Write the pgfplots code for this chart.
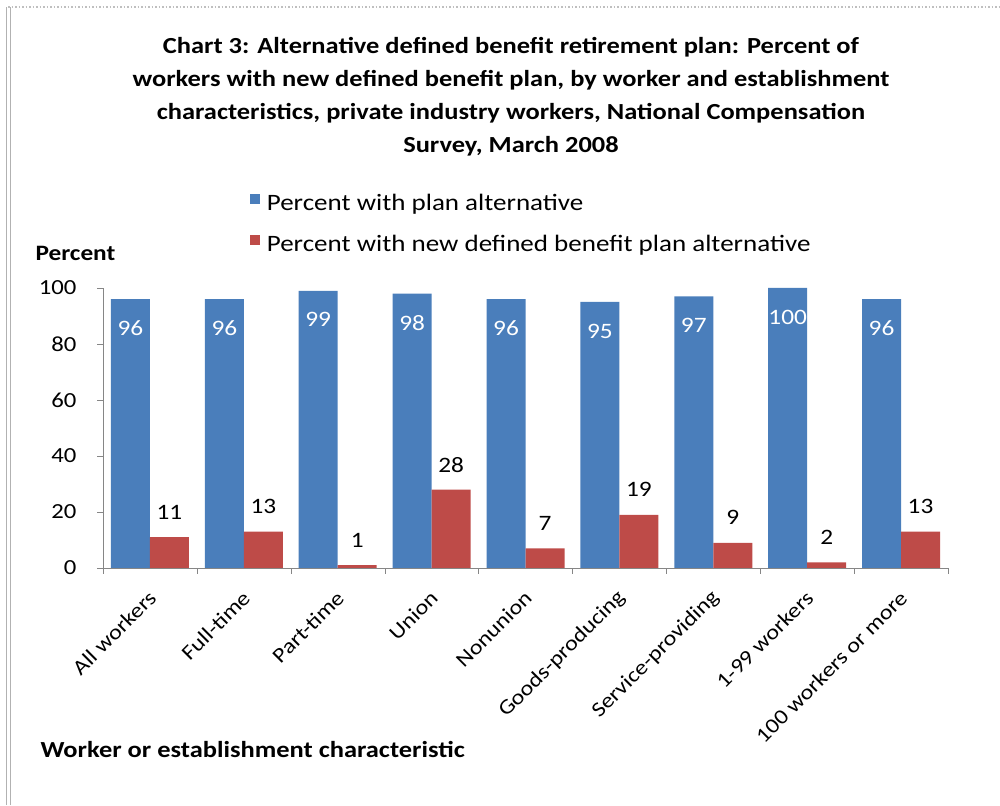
\documentclass[border=0pt]{standalone}
\usepackage{pgfplots}
\pgfplotsset{compat=1.18}
\usepackage{fontspec}
\setmainfont{Carlito}[FakeStretch=1.15]
\definecolor{barblue}{HTML}{4A7EBB}
\definecolor{barred}{HTML}{BE4B48}
\definecolor{axgray}{HTML}{868686}
\begin{document}
\begin{tikzpicture}[x=1pt,y=1pt]
\useasboundingbox (0,0) rectangle (1000,805);
\draw[gray!50, dotted, line width=1.5pt] (8,798) -- (1000,798);
\draw[gray!60, line width=0.8pt] (6,0) -- (6,798);
\draw[gray!60, line width=0.8pt] (10,0) -- (10,798);
\node[font=\bfseries\fontsize{23}{33}\selectfont, align=center] at (511,708)
  {Chart 3: Alternative defined benefit retirement plan: Percent of\\
   workers with new defined benefit plan, by worker and establishment\\
   characteristics, private industry workers, National Compensation\\
   Survey, March 2008};
\node[font=\bfseries\fontsize{22}{26}\selectfont, anchor=base west] at (32,544) {Percent};
\node[font=\bfseries\fontsize{23}{26}\selectfont, anchor=base west] at (37,47) {Worker or establishment characteristic};
\begin{axis}[
  at={(103pt,237pt)}, anchor=south west,
  scale only axis, width=845pt, height=280pt,
  ybar=0pt, bar width=39pt,
  xmin=-0.5, xmax=8.5, ymin=0, ymax=100,
  axis lines*=left,
  axis line style={draw=axgray},
  clip=false,
  tick align=outside,
  xtick={0,...,8},
  xticklabels={All workers,Full-time,Part-time,Union,Nonunion,Goods-producing,Service-providing,1-99 workers,100 workers or more},
  xtick style={draw=none},
  minor xtick={-0.5,0.5,...,8.5},
  minor x tick style={draw=axgray},
  minor tick length=6pt,
  major tick length=6pt,
  ytick={0,20,...,100},
  ytick style={draw=axgray},
  ticklabel style={font=\fontsize{21.5}{26}\selectfont},
  /pgf/number format/assume math mode=true,
  yticklabel style={xshift=-17pt},
  xticklabel style={xshift=5pt, yshift=-18pt, rotate=45, anchor=east, font=\fontsize{21}{26}\selectfont},
  legend style={at={(0.17,1.35)}, anchor=north west, draw=none, fill=none,
    font=\fontsize{23.5}{27}\selectfont, row sep=19pt, column sep=5pt, legend cell align=left},
  legend image code/.code={\fill[#1] (0pt,-1pt) rectangle (10pt,9pt);},
]
\addplot[fill=barblue, draw=none, nodes near coords,
  nodes near coords style={text=white, anchor=center, yshift=-29pt, font=\fontsize{22}{26}\selectfont}]
  coordinates {(0,96) (1,96) (2,99) (3,98) (4,96) (5,95) (6,97) (7,100) (8,96)};
\addplot[fill=barred, draw=none, nodes near coords,
  nodes near coords style={text=black, anchor=center, yshift=25pt, font=\fontsize{22}{26}\selectfont}]
  coordinates {(0,11) (1,13) (2,1) (3,28) (4,7) (5,19) (6,9) (7,2) (8,13)};
\legend{Percent with plan alternative, Percent with new defined benefit plan alternative}
\end{axis}
\end{tikzpicture}
\end{document}
